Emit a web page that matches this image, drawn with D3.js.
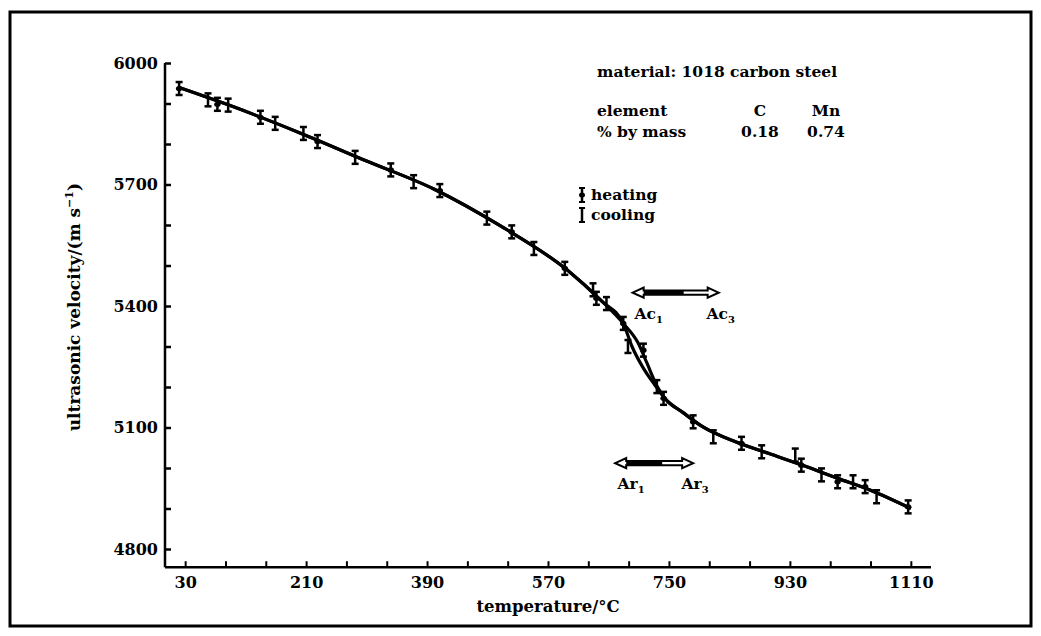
<!DOCTYPE html>
<html><head><meta charset="utf-8">
<script src="https://cdn.jsdelivr.net/npm/d3@7"></script>
<style>
html,body{margin:0;padding:0;background:#fff;}
svg text{font-family:"DejaVu Serif","Liberation Serif",serif;font-weight:bold;fill:#000;}
</style></head>
<body>
<svg id="chart" width="1041" height="636"></svg>
<script>
// ---- data ----
const xTicks = [30, 210, 390, 570, 750, 930, 1110];
const yTicks = [4800, 5100, 5400, 5700, 6000];
// measured points (temperature °C, velocity m/s)
const heatingT = [21, 78, 142, 227, 336, 409, 516, 595, 642, 682, 712, 742, 786, 858, 947, 1001, 1042, 1106];
const heatingV = [5937, 5898, 5866, 5806, 5736, 5685, 5583, 5493, 5419, 5357, 5291, 5172, 5114, 5061, 5007, 4966, 4954, 4904];
const coolingT = [64, 94, 164, 206, 283, 370, 479, 549, 637, 657, 689, 732, 816, 888, 938, 977, 1024, 1059];
const coolingV = [5909, 5896, 5851, 5826, 5767, 5707, 5617, 5542, 5440, 5406, 5300, 5201, 5077, 5040, 5032, 4983, 4966, 4929];
// smooth curves through the data
const heatCurveT = [20, 100, 200, 300, 400, 500, 600, 650, 682, 704, 717, 733, 745, 770, 800, 850, 900, 950, 1000, 1050, 1110];
const heatCurveV = [5940, 5893, 5828, 5758, 5689, 5597, 5487, 5412, 5357, 5309, 5260, 5200, 5170, 5138, 5102, 5064, 5035, 5006, 4975, 4945, 4900];
const coolCurveT = [20, 100, 200, 300, 400, 500, 600, 650, 682, 695, 711, 729, 745, 770, 800, 850, 900, 950, 1000, 1050, 1110];
const coolCurveV = [5940, 5893, 5828, 5758, 5689, 5597, 5487, 5412, 5357, 5300, 5249, 5205, 5170, 5138, 5102, 5064, 5035, 5006, 4975, 4945, 4900];
const errHalf = 16;
// transformation ranges
const acRange = [696, 824], acLevel = 5433, acLabels = ["Ac", "Ac"], acSubs = ["1", "3"];
const arRange = [670, 786], arLevel = 5012, arLabels = ["Ar", "Ar"], arSubs = ["1", "3"];

// ---- layout ----
const svg = d3.select("#chart");
const x = d3.scaleLinear().domain([0, 1140]).range([165, 931]);
const y = d3.scaleLinear().domain([4800, 6000]).range([549, 63]);
const yBase = y(4755);

// frame
svg.append("rect").attr("x", 10).attr("y", 12).attr("width", 1021).attr("height", 614)
  .attr("fill", "none").attr("stroke", "#000").attr("stroke-width", 3);

// axes lines
svg.append("line").attr("x1", x(0)).attr("x2", x(0)).attr("y1", y(6000)).attr("y2", yBase)
  .attr("stroke", "#000").attr("stroke-width", 2.5);
svg.append("line").attr("x1", x(0)).attr("x2", x(1140)).attr("y1", yBase).attr("y2", yBase)
  .attr("stroke", "#000").attr("stroke-width", 2.5);

const yAxis = d3.axisLeft(y).tickValues(d3.range(4800, 6001, 100)).tickSize(-6).tickPadding(7)
  .tickFormat(d => yTicks.includes(d) ? d : "");
const gy = svg.append("g").attr("transform", `translate(${x(0)},0)`).call(yAxis);
gy.select(".domain").remove();
gy.selectAll("line").attr("stroke-width", 2.5);
gy.selectAll("text").style("font-size", "16px").attr("font-family", null);

const xAxis = d3.axisBottom(x).tickValues(d3.range(30, 1111, 60)).tickSize(-6).tickPadding(9)
  .tickFormat(d => xTicks.includes(d) ? d : "");
const gx = svg.append("g").attr("transform", `translate(0,${yBase})`).call(xAxis);
gx.select(".domain").remove();
gx.selectAll("line").attr("stroke-width", 2);
gx.selectAll("text").style("font-size", "16px").attr("font-family", null);

// axis titles
const yTitle = svg.append("text").attr("transform", `translate(80,${(y(6000) + yBase) / 2 - 8}) rotate(-90)`)
  .attr("text-anchor", "middle").style("font-size", "17px");
yTitle.append("tspan").text("ultrasonic velocity/(m s");
yTitle.append("tspan").attr("dy", -7).style("font-size", "11px").text("−1");
yTitle.append("tspan").attr("dy", 7).text(")");
svg.append("text").attr("x", 548).attr("y", 612).attr("text-anchor", "middle").style("font-size", "16.5px")
  .text("temperature/°C");

// curves
const line = d3.line().x(d => x(d[0])).y(d => y(d[1])).curve(d3.curveMonotoneX);
const heatCurve = heatCurveT.map((t, i) => [t, heatCurveV[i]]);
const coolCurve = coolCurveT.map((t, i) => [t, coolCurveV[i]]);
svg.append("path").attr("d", line(heatCurve)).attr("fill", "none").attr("stroke", "#000").attr("stroke-width", 3.2);
svg.append("path").attr("d", line(coolCurve)).attr("fill", "none").attr("stroke", "#000").attr("stroke-width", 3.2);

// error bars
function errBar(g, t, v, heating) {
  const cx = x(t), y1 = y(v + errHalf), y2 = y(v - errHalf);
  g.append("line").attr("x1", cx).attr("x2", cx).attr("y1", y1).attr("y2", y2).attr("stroke", "#000").attr("stroke-width", 2.5);
  g.append("line").attr("x1", cx - 3.5).attr("x2", cx + 3.5).attr("y1", y1).attr("y2", y1).attr("stroke", "#000").attr("stroke-width", 2.5);
  g.append("line").attr("x1", cx - 3.5).attr("x2", cx + 3.5).attr("y1", y2).attr("y2", y2).attr("stroke", "#000").attr("stroke-width", 2.5);
  if (heating) g.append("ellipse").attr("cx", cx).attr("cy", y(v)).attr("rx", 3.2).attr("ry", 2.6).attr("fill", "#000");
}
const gp = svg.append("g");
heatingT.forEach((t, i) => errBar(gp, t, heatingV[i], true));
coolingT.forEach((t, i) => errBar(gp, t, coolingV[i], false));

// double arrows
function dblArrow(range, level, labels, subs) {
  const x1 = x(range[0]), x2 = x(range[1]), yy = y(level), mid = (x1 + x2) / 2;
  const h = 5, head = 11, sh = 2.2;
  const path = `M${x1},${yy} L${x1 + head},${yy - h} L${x1 + head},${yy - sh} L${x2 - head},${yy - sh} L${x2 - head},${yy - h} L${x2},${yy} L${x2 - head},${yy + h} L${x2 - head},${yy + sh} L${x1 + head},${yy + sh} L${x1 + head},${yy + h} Z`;
  svg.append("path").attr("d", path).attr("fill", "#fff").attr("stroke", "#000").attr("stroke-width", 2);
  svg.append("rect").attr("x", x1 + head).attr("y", yy - sh).attr("width", mid - x1 - head + 8).attr("height", sh * 2).attr("fill", "#000");
  [x1 + 16, x2 + 2].forEach((px, i) => {
    const tx = svg.append("text").attr("x", px).attr("y", yy + 26).attr("text-anchor", "middle").style("font-size", "15.5px").text(labels[i]);
    tx.append("tspan").attr("dy", 4).style("font-size", "10px").text(subs[i]);
  });
}
dblArrow(acRange, acLevel, acLabels, acSubs);
dblArrow(arRange, arLevel, arLabels, arSubs);

// annotations
const ann = svg.append("g").style("font-size", "15.5px");
ann.append("text").attr("x", 597).attr("y", 77).text("material: 1018 carbon steel");
ann.append("text").attr("x", 597).attr("y", 116).text("element");
ann.append("text").attr("x", 760).attr("y", 116).attr("text-anchor", "middle").text("C");
ann.append("text").attr("x", 826).attr("y", 116).attr("text-anchor", "middle").text("Mn");
ann.append("text").attr("x", 597).attr("y", 137).text("% by mass");
ann.append("text").attr("x", 760).attr("y", 137).attr("text-anchor", "middle").text("0.18");
ann.append("text").attr("x", 826).attr("y", 137).attr("text-anchor", "middle").text("0.74");

// legend
function legSym(cx, cy, heating) {
  svg.append("line").attr("x1", cx).attr("x2", cx).attr("y1", cy - 7).attr("y2", cy + 7).attr("stroke", "#000").attr("stroke-width", 2.5);
  svg.append("line").attr("x1", cx - 3).attr("x2", cx + 3).attr("y1", cy - 7).attr("y2", cy - 7).attr("stroke", "#000").attr("stroke-width", 2);
  svg.append("line").attr("x1", cx - 3).attr("x2", cx + 3).attr("y1", cy + 7).attr("y2", cy + 7).attr("stroke", "#000").attr("stroke-width", 2);
  if (heating) svg.append("ellipse").attr("cx", cx).attr("cy", cy).attr("rx", 3).attr("ry", 2.5).attr("fill", "#000");
}
legSym(582, 195, true);
legSym(582, 215, false);
ann.append("text").attr("x", 591).attr("y", 200).text("heating");
ann.append("text").attr("x", 591).attr("y", 220).text("cooling");
</script>
</body></html>
